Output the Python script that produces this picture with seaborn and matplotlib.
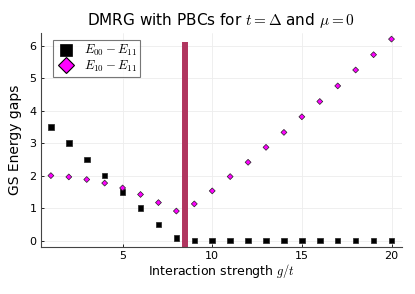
import numpy as np
import pandas as pd
import matplotlib
matplotlib.use("Agg")
import matplotlib.pyplot as plt
import seaborn as sns
from matplotlib.lines import Line2D

# ---- data ----
g_values = list(range(1, 21))
gap_00_11 = [3.5, 3.0, 2.5, 2.0, 1.5, 1.0, 0.5, 0.08,
             0.0, 0.0, 0.0, 0.0, 0.0, 0.0, 0.0, 0.0, 0.0, 0.0, 0.0, 0.0]
gap_10_11 = [2.0, 1.96, 1.88, 1.77, 1.62, 1.42, 1.17, 0.91, 1.13, 1.53,
             1.97, 2.41, 2.87, 3.33, 3.81, 4.28, 4.76, 5.25, 5.72, 6.2]
series_labels = [r"$E_{00} - E_{11}$", r"$E_{10} - E_{11}$"]
transition_g = 8.5
transition_span = [-0.2, 6.12]
x_ticks = [5, 10, 15, 20]
y_ticks = [0, 1, 2, 3, 4, 5, 6]

df = pd.DataFrame({
    "g": g_values * 2,
    "gap": gap_00_11 + gap_10_11,
    "series": [series_labels[0]] * len(g_values) + [series_labels[1]] * len(g_values),
})

sns.set_theme(style="whitegrid")
plt.rcParams["font.family"] = ["DejaVu Sans"]
plt.rcParams["mathtext.fontset"] = "cm"
plt.rcParams["text.color"] = "black"
plt.rcParams["axes.labelcolor"] = "black"

fig = plt.figure(figsize=(4.15, 2.94), dpi=100)
ax = fig.add_axes([0.098, 0.161, 0.870, 0.727])

ax.plot([transition_g, transition_g], transition_span, color="#B0355F",
        lw=4.3, solid_capstyle="butt", clip_on=False, zorder=1)

sns.scatterplot(data=df, x="g", y="gap", hue="series", style="series", size="series",
                palette={series_labels[0]: "black", series_labels[1]: "#FF00FF"},
                markers={series_labels[0]: "s", series_labels[1]: "D"},
                sizes={series_labels[0]: 16, series_labels[1]: 9},
                edgecolor="#222222", linewidth=0.5, ax=ax, legend=False, zorder=3)

ax.set_xlim(0.43, 20.57)
ax.set_ylim(-0.186, 6.39)
ax.set_xticks(x_ticks)
ax.set_yticks(y_ticks)
ax.grid(True, color="#EDEDED", lw=0.6)
for side in ["top", "right"]:
    ax.spines[side].set_visible(False)
for side in ["left", "bottom"]:
    ax.spines[side].set_color("#444444")
    ax.spines[side].set_linewidth(0.8)
ax.tick_params(axis="both", labelsize=8, length=2, width=0.6, pad=3,
               colors="black", direction="in")
ax.tick_params(axis="both", which="both", bottom=True, left=True)

ax.set_title(r"DMRG with PBCs for $t = \Delta$ and $\mu = 0$", fontsize=11,
             pad=6, color="black")
ax.set_xlabel(r"Interaction strength $g/t$", fontsize=9, labelpad=1)
ax.set_ylabel("GS Energy gaps", fontsize=10, labelpad=5)

handles = [
    Line2D([], [], marker="s", color="black", linestyle="none", markersize=8.8,
           markeredgecolor="black", markeredgewidth=0.5),
    Line2D([], [], marker="D", color="#FF00FF", linestyle="none", markersize=7.8,
           markeredgecolor="black", markeredgewidth=0.8),
]
leg = ax.legend(handles, series_labels, loc="upper left",
                bbox_to_anchor=(0.033, 0.967), fontsize=9.2,
                frameon=True, fancybox=False, edgecolor="#555555",
                borderpad=0.25, handlelength=1.6, handletextpad=0.6,
                labelspacing=0.0, borderaxespad=0.0)
leg.get_frame().set_linewidth(0.8)

fig.savefig("out.png", dpi=100)
